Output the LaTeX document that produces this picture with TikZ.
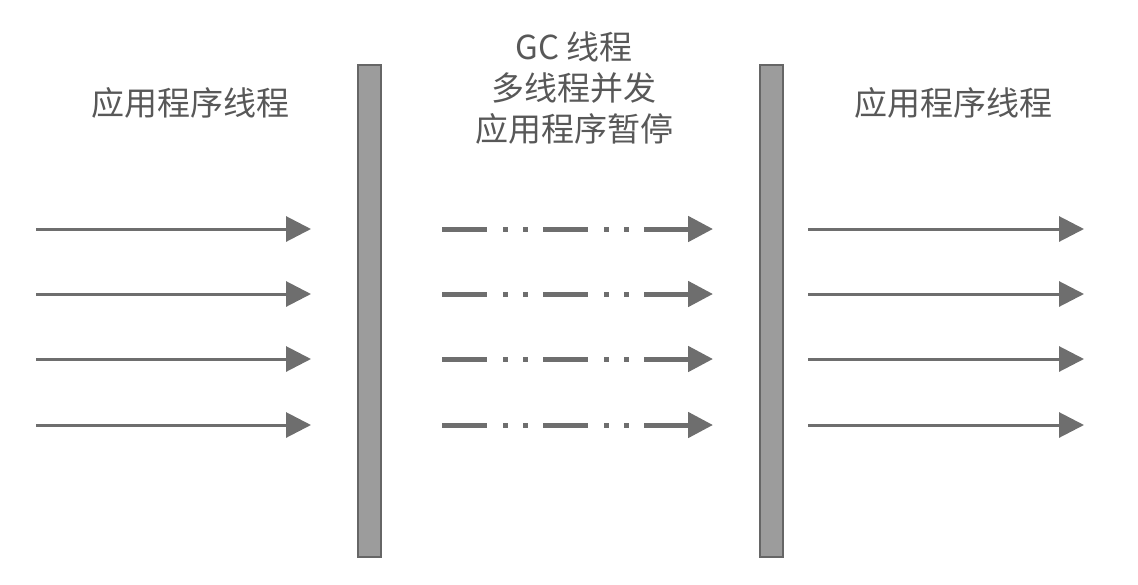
\documentclass[tikz,border=0pt]{standalone}
\usepackage{fontspec}
\newfontfamily\cjk{Noto Sans CJK SC}
\usetikzlibrary{arrows.meta}
\definecolor{arr}{HTML}{6E6E6E}
\definecolor{txt}{HTML}{585858}
\definecolor{barfill}{HTML}{9C9C9C}
\definecolor{barline}{HTML}{666666}
\tikzset{
  lbl/.style={text=txt, font=\cjk\fontsize{33}{41}\selectfont, align=center, inner sep=0pt},
  thr/.style={draw=arr, line width=3pt, -{Triangle[length=25pt,width=25pt]}},
  gcthr/.style={draw=arr, line width=5pt, dash pattern=on 45pt off 16pt on 5pt off 15pt on 5pt off 15pt, -{Triangle[length=25pt,width=25pt]}},
  barbox/.style={draw=barline, fill=barfill, line width=2pt, minimum width=23pt, minimum height=492pt, inner sep=0pt}
}
\begin{document}
\begin{tikzpicture}[x=1pt,y=-1pt]
\useasboundingbox (0,0) rectangle (1138,584);
\node[barbox] (b1) at (369,311) {};
\node[barbox] (b2) at (771,311) {};
\node[lbl] (t1) at (190,103) {应用程序线程};
\node[lbl] (t2) at (574,88) {GC 线程\\多线程并发\\应用程序暂停};
\node[lbl] (t3) at (953,103) {应用程序线程};
\foreach \i/\y in {1/229,2/294,3/359,4/425}{
  \coordinate (la\i) at (36,\y); \coordinate (lb\i) at (311,\y);
  \coordinate (ma\i) at (442,\y); \coordinate (mb\i) at (713,\y);
  \coordinate (ra\i) at (808,\y); \coordinate (rb\i) at (1084,\y);
  \draw[thr] (la\i) -- (lb\i);
  \draw[gcthr] (ma\i) -- (mb\i);
  \draw[thr] (ra\i) -- (rb\i);
}
\end{tikzpicture}
\end{document}
